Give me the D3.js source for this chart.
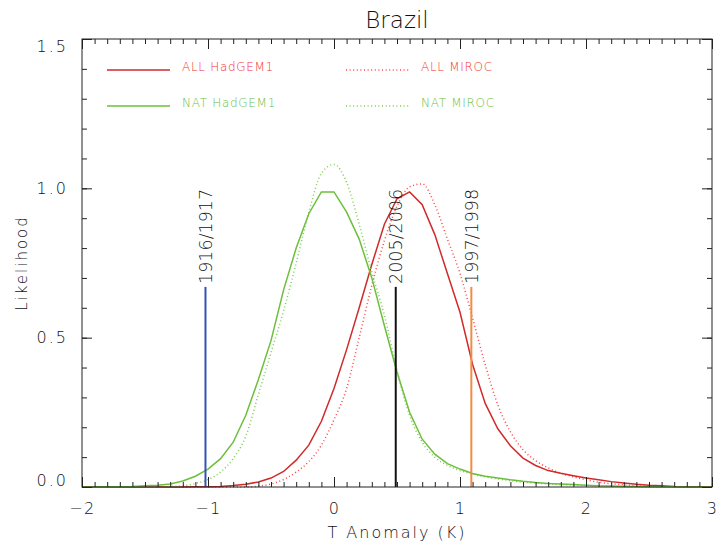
<!DOCTYPE html>
<html>
<head>
<meta charset="utf-8">
<script src="https://cdn.jsdelivr.net/npm/d3@7"></script>
<style>
  body { margin: 0; background: #fff; }
  svg { display: block; font-family: "DejaVu Sans", sans-serif; font-weight: 300; }
</style>
</head>
<body>
<div id="chart"></div>
<script>
// temperature anomaly grid (K)
var temps = [-2.0,-1.9,-1.8,-1.7,-1.6,-1.5,-1.4,-1.3,-1.2,-1.1,
             -1.0,-0.9,-0.8,-0.7,-0.6,-0.5,-0.4,-0.3,-0.2,-0.1,
              0.0, 0.1, 0.2, 0.3, 0.4, 0.5, 0.6, 0.7, 0.8, 0.9,
              1.0, 1.1, 1.2, 1.3, 1.4, 1.5, 1.6, 1.7, 1.8, 1.9,
              2.0, 2.1, 2.2, 2.3, 2.4, 2.5, 2.6, 2.7, 2.8, 2.9, 3.0];

// likelihoods
var allHadGEM1 = [0,0,0,0,0,0,0,0,0,0.001,
                  0.001,0.002,0.005,0.009,0.017,0.030,0.052,0.090,0.140,0.220,
                  0.330,0.460,0.600,0.745,0.880,0.965,0.988,0.945,0.845,0.715,
                  0.585,0.410,0.280,0.195,0.138,0.097,0.072,0.055,0.046,0.038,
                  0.030,0.024,0.018,0.013,0.009,0.006,0.004,0.002,0.001,0.001,0];
var allMIROC   = [0,0,0,0,0,0,0,0,0,0,
                  0,0,0,0,0.003,0.010,0.025,0.050,0.085,0.140,
                  0.225,0.330,0.500,0.675,0.825,0.940,1.005,1.015,0.945,0.830,
                  0.715,0.565,0.410,0.275,0.185,0.125,0.088,0.064,0.046,0.034,
                  0.024,0.016,0.011,0.007,0.004,0.002,0.001,0,0,0,0];
var natHadGEM1 = [0,0,0.001,0.001,0.002,0.004,0.006,0.010,0.020,0.036,
                  0.060,0.095,0.150,0.240,0.360,0.490,0.660,0.800,0.915,0.988,
                  0.988,0.920,0.830,0.700,0.540,0.385,0.250,0.160,0.110,0.078,
                  0.060,0.045,0.036,0.030,0.024,0.019,0.015,0.012,0.010,0.008,
                  0.006,0.004,0.003,0.002,0.002,0.001,0.001,0.001,0,0,0];
var natMIROC   = [0,0,0,0,0,0,0,0.002,0.004,0.012,
                  0.025,0.050,0.095,0.170,0.310,0.450,0.590,0.750,0.920,1.050,
                  1.080,1.020,0.880,0.720,0.575,0.390,0.240,0.150,0.100,0.072,
                  0.055,0.043,0.034,0.027,0.021,0.016,0.013,0.010,0.008,0.006,
                  0.005,0.004,0.003,0.002,0.001,0.001,0,0,0,0,0];

// observed seasons
var eventLabels = ["1916/1917", "2005/2006", "1997/1998"];
var eventTemps  = [-1.02, 0.49, 1.09];
var eventColors = ["#3452b4", "#111111", "#f28c45"];
var eventHeight = 0.67;

var xTicks = [-2, -1, 0, 1, 2, 3];
var yTicks = [0, 0.5, 1.0, 1.5];

var series = [
  {name: "ALL HadGEM1", values: allHadGEM1, color: "#d02a2a", text: "#f03232", dash: null},
  {name: "ALL MIROC",   values: allMIROC,   color: "#ff4444", text: "#f03232", dash: "1,2.6"},
  {name: "NAT HadGEM1", values: natHadGEM1, color: "#6cbf3c", text: "#6cc044", dash: null},
  {name: "NAT MIROC",   values: natMIROC,   color: "#7ccc50", text: "#6cc044", dash: "1,2.6"}
];

// set the dimensions and margins of the graph
var W = 717, H = 546;
var margin = {top: 39, right: 5, bottom: 59, left: 82},
    width = W - margin.left - margin.right,
    height = H - margin.top - margin.bottom;

var x = d3.scaleLinear().domain([-2, 3]).range([0, width]);
var y = d3.scaleLinear().domain([0, 1.5]).range([height, 0]);

var svg = d3.select("#chart").append("svg")
    .attr("width", W)
    .attr("height", H);

var g = svg.append("g")
    .attr("transform", "translate(" + margin.left + "," + margin.top + ")");

// title
svg.append("text")
    .attr("x", margin.left + width / 2)
    .attr("y", 28)
    .attr("text-anchor", "middle")
    .style("font-size", "23px")
    .style("fill", "#111")
    .text("Brazil");

// curves
var drawOrder = [1, 0, 3, 2];
drawOrder.forEach(function(i) {
  var s = series[i];
  var line = d3.line()
      .x(function(d, j) { return x(temps[j]); })
      .y(function(d) { return y(d); })
      .curve(s.dash ? d3.curveMonotoneX : d3.curveLinear);
  g.append("path")
      .datum(s.values)
      .attr("d", line)
      .style("fill", "none")
      .style("stroke", s.color)
      .style("stroke-width", 1.5)
      .style("stroke-dasharray", s.dash);
});

// event lines + labels
eventTemps.forEach(function(t, i) {
  g.append("line")
      .attr("x1", x(t)).attr("x2", x(t))
      .attr("y1", y(0)).attr("y2", y(eventHeight))
      .style("stroke", eventColors[i])
      .style("stroke-width", 2);
  g.append("text")
      .attr("transform", "translate(" + x(t) + "," + (y(eventHeight) - 3) + ") rotate(-90)")
      .attr("dy", "0.36em")
      .style("font-size", "17.5px")
      .style("fill", "#111")
      .text(eventLabels[i]);
});

// axes: major and minor ticks pointing inwards on all four sides
var minorX = x.ticks(50), minorY = y.ticks(15);
function styleAxis(sel) {
  sel.select(".domain").remove();
  sel.selectAll("line").style("stroke", "#222");
}
g.append("g").attr("transform", "translate(0," + height + ")")
    .call(d3.axisBottom(x).tickValues(minorX).tickSize(-5).tickFormat(""))
    .call(styleAxis);
g.append("g").attr("transform", "translate(0," + height + ")")
    .call(d3.axisBottom(x).tickValues(xTicks).tickSize(-10).tickPadding(16)
      .tickFormat(function(d) { return d3.format("d")(d).replace("-", "\u2212"); }))
    .call(styleAxis)
    .selectAll("text").style("font-size", "16px").style("fill", "#111")
      .style("letter-spacing", "1.5px").style("font-family", "DejaVu Sans").style("font-weight", 300);
g.append("g")
    .call(d3.axisTop(x).tickValues(minorX).tickSize(-5).tickFormat(""))
    .call(styleAxis);
g.append("g")
    .call(d3.axisTop(x).tickValues(xTicks).tickSize(-10).tickFormat(""))
    .call(styleAxis);
g.append("g")
    .call(d3.axisLeft(y).tickValues(minorY).tickSize(-5).tickFormat(""))
    .call(styleAxis);
var yAx = g.append("g")
    .call(d3.axisLeft(y).tickValues(yTicks).tickSize(-10).tickPadding(14)
      .tickFormat(d3.format(".1f")))
    .call(styleAxis);
yAx.selectAll("text").style("font-size", "16px").style("fill", "#111")
    .style("letter-spacing", "2px").style("font-family", "DejaVu Sans").style("font-weight", 300)
    .attr("y", function(d) { return d === 1.5 ? 7 : (d === 0 ? -7 : 0); });
g.append("g").attr("transform", "translate(" + width + ",0)")
    .call(d3.axisRight(y).tickValues(minorY).tickSize(-5).tickFormat(""))
    .call(styleAxis);
g.append("g").attr("transform", "translate(" + width + ",0)")
    .call(d3.axisRight(y).tickValues(yTicks).tickSize(-10).tickFormat(""))
    .call(styleAxis);

// frame
g.append("rect")
    .attr("width", width).attr("height", height)
    .style("fill", "none").style("stroke", "#222").style("stroke-width", 1);

// axis titles
svg.append("text")
    .attr("x", margin.left + width / 2)
    .attr("y", 538)
    .attr("text-anchor", "middle")
    .style("font-size", "16px").style("letter-spacing", "2px").style("fill", "#111")
    .text("T Anomaly (K)");
svg.append("text")
    .attr("transform", "translate(27," + (margin.top + height / 2) + ") rotate(-90)")
    .attr("text-anchor", "middle")
    .style("font-size", "15px").style("letter-spacing", "2px").style("fill", "#111")
    .text("Likelihood");

// legend
var legend = svg.selectAll(".legend")
    .data(series)
  .enter().append("g")
    .attr("class", "legend")
    .attr("transform", function(d, i) {
      return "translate(" + (107 + (i % 2) * 239) + "," + (70 + Math.floor(i / 2) * 36) + ")";
    });
legend.append("line")
    .attr("x1", 0).attr("x2", 63)
    .style("stroke", function(d) { return d.color; })
    .style("stroke-width", 1.5)
    .style("stroke-dasharray", function(d) { return d.dash; });
legend.append("text")
    .attr("x", 75)
    .attr("y", 1)
    .style("font-size", "12px")
    .style("letter-spacing", "0.7px")
    .style("fill", function(d) { return d.text; })
    .text(function(d) { return d.name; });
</script>
</body>
</html>
